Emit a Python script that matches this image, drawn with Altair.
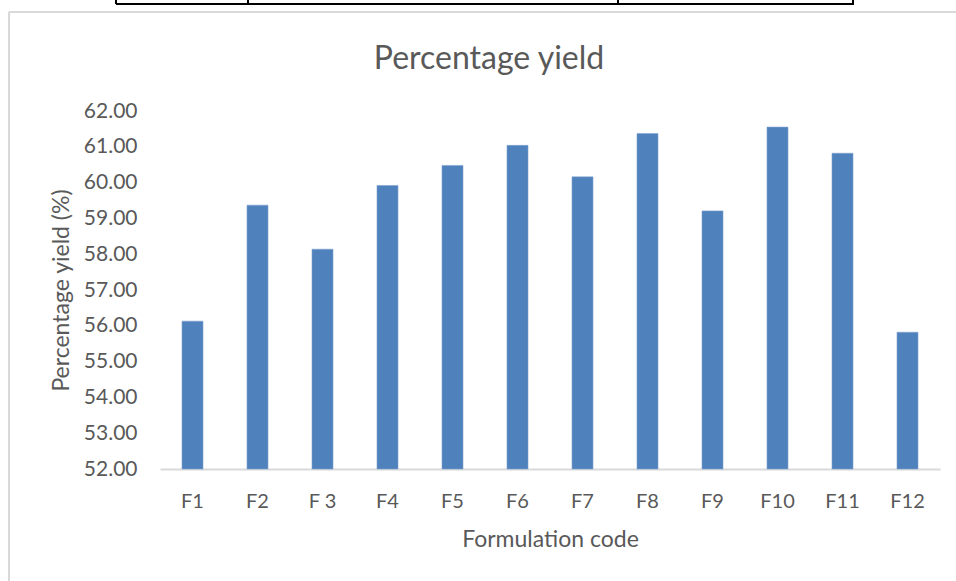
import altair as alt
import pandas as pd

# Formulation codes and their measured percentage yield
codes = ["F1", "F2", "F 3", "F4", "F5", "F6", "F7", "F8", "F9", "F10", "F11", "F12"]
yields = [56.13, 59.37, 58.14, 59.92, 60.48, 61.04, 60.16, 61.37, 59.21, 61.55, 60.82, 55.82]
y_ticks = [52, 53, 54, 55, 56, 57, 58, 59, 60, 61, 62]

df = pd.DataFrame({"code": codes, "yield": yields})

FONT = "Lato"
TEXT = "#595959"
BAR = "#4F81BD"
FRAME = "#D9D9D9"

W, H = 780, 358
PAD = {"left": 160, "top": 111, "right": 16, "bottom": 112}

bars = alt.Chart(df).mark_bar(color=BAR, size=21, stroke="#7FA2CF", strokeWidth=0.6).encode(
    x=alt.X(
        "code:N",
        sort=codes,
        scale=alt.Scale(paddingInner=0, paddingOuter=0),
        axis=alt.Axis(
            title="Formulation code",
            labelAngle=0,
            labelFont=FONT,
            labelFontSize=20,
            labelColor=TEXT,
            labelPadding=22,
            ticks=False,
            domainColor=FRAME,
            domainWidth=2,
            titleFont=FONT,
            titleFontSize=23,
            titleFontWeight="normal",
            titleColor=TEXT,
            titlePadding=17,
        ),
    ),
    y=alt.Y(
        "yield:Q",
        scale=alt.Scale(domain=[52, 62], zero=False, nice=False),
        axis=alt.Axis(
            title="Percentage yield (%)",
            values=y_ticks,
            format=".2f",
            labelFont=FONT,
            labelFontSize=21,
            labelColor=TEXT,
            labelPadding=23,
            ticks=False,
            domain=False,
            grid=False,
            titleFont=FONT,
            titleFontSize=23,
            titleFontWeight="normal",
            titleColor=TEXT,
            titlePadding=10,
        ),
    ),
    y2=alt.datum(52),
)

# Outer chart frame (left and top edges) and the ruled table lines above it
frame_df = pd.DataFrame(
    {
        "x": [-151, -151, -44, -44, 88, 458, 693],
        "x2": [-151, 796, 694, -44, 88, 458, 693],
        "y": [-99, -99, -107, -111, -111, -111, -111],
        "y2": [470, -99, -107, -107, -107, -107, -107],
        "kind": ["frame", "frame", "table", "table", "table", "table", "table"],
    }
)

frame = alt.Chart(frame_df).mark_rule(strokeWidth=2).encode(
    x=alt.X("x:Q", scale=None, axis=None),
    x2="x2:Q",
    y=alt.Y("y:Q", scale=None, axis=None),
    y2="y2:Q",
    color=alt.Color(
        "kind:N",
        scale=alt.Scale(domain=["frame", "table"], range=[FRAME, "#000000"]),
        legend=None,
    ),
)

chart = (
    alt.layer(frame, bars)
    .resolve_scale(x="independent", y="independent")
    .properties(
        width=W,
        height=H,
        title=alt.TitleParams(
            "Percentage yield",
            font=FONT,
            fontSize=32,
            fontWeight="normal",
            color=TEXT,
            anchor="middle",
            frame="group",
            baseline="alphabetic",
            offset=-102,
            dx=-61,
        ),
        autosize=alt.AutoSizeParams(type="none"),
        padding=PAD,
    )
    .configure(background="white")
    .configure_view(stroke=None, strokeWidth=0)
)

chart.save("out.html", embed_options={"renderer": "svg", "actions": False})
